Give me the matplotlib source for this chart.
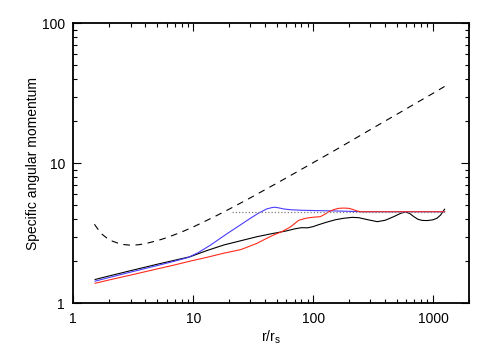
import matplotlib
matplotlib.use('Agg')
import matplotlib.pyplot as plt
from matplotlib.ticker import LogLocator, FuncFormatter, NullFormatter

# Keplerian (dashed) curve
r_kep = [1.5, 1.7, 2.0, 2.5, 3.0, 3.5, 4.0, 5.0, 6.0, 8.0, 10, 15, 20, 30,
         50, 70, 100, 150, 200, 300, 500, 700, 1000, 1250]
l_kep = [3.67, 3.16, 2.83, 2.64, 2.60, 2.62, 2.67, 2.80, 2.94, 3.23, 3.51,
         4.15, 4.71, 5.67, 7.22, 8.49, 10.1, 12.3, 14.2, 17.4, 22.4, 26.5,
         31.6, 35.4]

# dotted reference level
r_flat = [21, 1250]
l_flat = [4.51, 4.51]

r_black = [1.52, 2, 3, 5, 7, 9.4, 13, 18, 25, 34, 45, 59, 70, 80, 90, 100,
           111, 130, 153, 180, 212, 240, 280, 343, 400, 471, 540, 590, 640,
           692, 750, 814, 900, 1000, 1080, 1158, 1250]
l_black = [1.48, 1.57, 1.71, 1.90, 2.03, 2.15, 2.38, 2.61, 2.80, 2.99, 3.14,
           3.28, 3.40, 3.47, 3.46, 3.53, 3.64, 3.80, 3.95, 4.05, 4.11, 4.09,
           3.97, 3.83, 3.92, 4.16, 4.40, 4.49, 4.38, 4.16, 3.98, 3.91, 3.90,
           3.95, 4.05, 4.27, 4.70]

r_blue = [1.52, 2, 3, 5, 7, 9, 11, 14, 17, 20, 25, 30, 35, 41, 45, 48, 52,
          57, 65, 80, 100, 150, 200, 250, 400, 700, 1000, 1250]
l_blue = [1.44, 1.53, 1.67, 1.86, 2.00, 2.12, 2.30, 2.61, 2.93, 3.22, 3.65,
          4.05, 4.40, 4.72, 4.82, 4.86, 4.80, 4.72, 4.66, 4.62, 4.60, 4.57,
          4.54, 4.51, 4.51, 4.51, 4.51, 4.51]

r_red = [1.52, 2, 3, 5, 7, 9.4, 13, 18, 25, 34, 40, 47, 55, 65, 76, 88, 98,
         115, 125, 135, 150, 164, 180, 198, 215, 233, 256, 400, 700, 1000, 1250]
l_red = [1.39, 1.47, 1.59, 1.76, 1.88, 2.00, 2.13, 2.28, 2.42, 2.68, 2.88,
         3.08, 3.25, 3.52, 3.92, 4.06, 4.11, 4.16, 4.32, 4.51, 4.68, 4.77,
         4.79, 4.77, 4.68, 4.56, 4.51, 4.51, 4.51, 4.51, 4.51]

plt.rcParams['font.family'] = ['Liberation Sans', 'DejaVu Sans']

fig = plt.figure(figsize=(4.91, 3.5), dpi=100)
ax = fig.add_axes([0.1493, 0.1334, 0.806, 0.800])

ax.plot(r_kep, l_kep, color='black', lw=0.8, dashes=(6, 5))
ax.plot(r_black, l_black, color='black', lw=0.8)
ax.plot(r_blue, l_blue, color='#4a3cff', lw=0.8)
ax.plot(r_red, l_red, color='#ff2a1a', lw=0.8)
ax.plot(r_flat, l_flat, color='#808080', lw=0.9, linestyle=(0, (1, 1.6)))

ax.set_xscale('log')
ax.set_yscale('log')
ax.set_xlim(1, 2000)
ax.set_ylim(1, 100)

fmt = FuncFormatter(lambda v, p: '%d' % round(v))
for axis in (ax.xaxis, ax.yaxis):
    axis.set_major_locator(LogLocator(base=10))
    axis.set_minor_locator(LogLocator(base=10, subs=range(2, 10)))
    axis.set_major_formatter(fmt)
    axis.set_minor_formatter(NullFormatter())

ax.tick_params(which='both', direction='in', top=True, right=True,
               width=0.8, labelsize=10, colors='black')
ax.tick_params(which='major', length=6, pad=6)
ax.tick_params(which='minor', length=3)
for s in ax.spines.values():
    s.set_linewidth(1.3)

ax.set_xlabel(r'r/r$_\mathregular{s}$', fontsize=10, labelpad=2)
ax.set_ylabel('Specific angular momentum', fontsize=10, labelpad=1)

fig.savefig('out.png', dpi=100)
